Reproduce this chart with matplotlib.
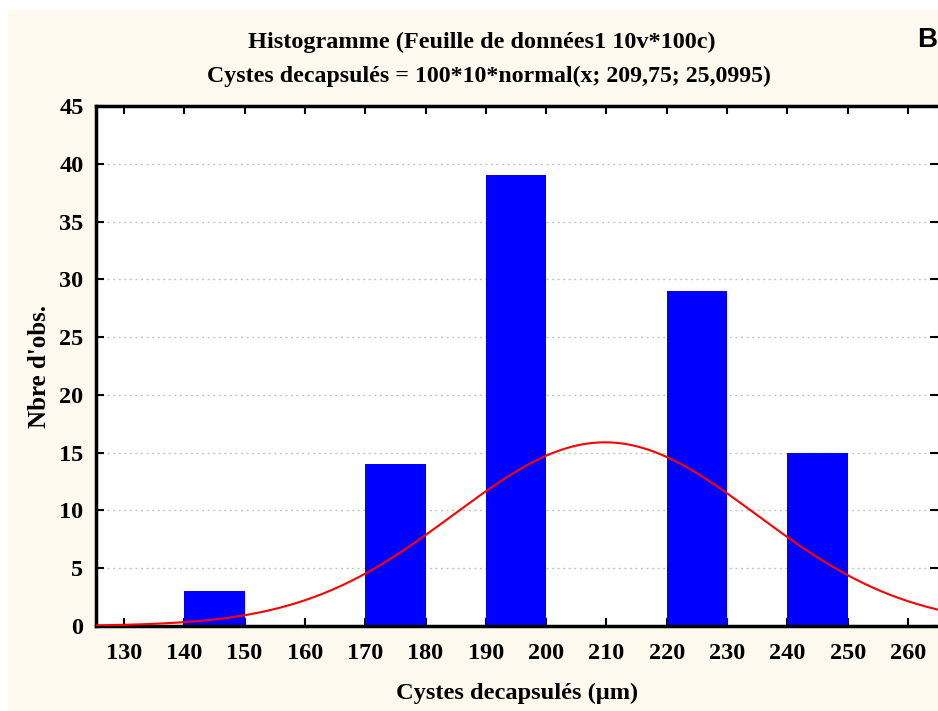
import numpy as np
import matplotlib.pyplot as plt
from matplotlib.patches import Rectangle

# bins (left edges, width 10) and counts
bin_left = [130, 140, 150, 160, 170, 180, 190, 200, 210, 220, 230, 240, 250]
counts = [0, 3, 0, 0, 14, 0, 39, 0, 0, 29, 0, 15, 0]
n_obs, bin_w, mu, sigma = 100, 10, 209.75, 25.0995
x_ticks = list(range(130, 261, 10))
y_ticks = list(range(0, 46, 5))

serif = 'Liberation Serif'
cream = '#FDF9EE'

fig = plt.figure(figsize=(9.38, 7.11), dpi=100)
fig.patch.set_facecolor('white')
fig.patches.append(Rectangle((8 / 938, 0), 1, 1 - 10 / 711, transform=fig.transFigure,
                             facecolor=cream, edgecolor='none', zorder=-10))

ax = fig.add_axes([96 / 938, 85 / 711, 1 - 96 / 938, 520 / 711])
ax.set_facecolor('white')

ax.bar(bin_left, counts, width=bin_w, align='edge', color='#0000FF', zorder=2)

xs = np.linspace(120, 270, 400)
ys = n_obs * bin_w * np.exp(-0.5 * ((xs - mu) / sigma) ** 2) / (sigma * np.sqrt(2 * np.pi))
ax.plot(xs, ys, color='#FF0000', lw=1.5, zorder=3)

ax.set_xlim(125.36, 264.97)
ax.set_ylim(0, 45)
ax.set_xticks(x_ticks)
ax.set_yticks(y_ticks)
ax.grid(axis='y', linestyle=(0, (1.5, 2.5)), color='#C4C4C4', lw=1, zorder=0)
ax.tick_params(direction='in', length=6, width=1.5, top=True, right=True,
               labelsize=17.5)
ax.tick_params(axis='x', pad=12)
ax.tick_params(axis='y', pad=9)
for lab in ax.get_xticklabels() + ax.get_yticklabels():
    lab.set_fontfamily(serif)
    lab.set_fontweight('bold')
for s in ['left', 'bottom', 'top']:
    ax.spines[s].set_linewidth(2.5)
ax.spines['right'].set_visible(False)

ax.set_xlabel('Cystes decapsulés (µm)', fontsize=17.6, fontfamily=serif,
              fontweight='bold', labelpad=14)
ax.set_ylabel("Nbre d'obs.", fontsize=18, fontfamily=serif,
              fontweight='bold', labelpad=6)

fig.text(482 / 938, 1 - 42 / 711, 'Histogramme (Feuille de données1 10v*100c)',
         ha='center', va='center', fontsize=17.5, fontfamily=serif, fontweight='bold')
fig.text(489 / 938, 1 - 76 / 711, 'Cystes decapsulés = 100*10*normal(x; 209,75; 25,0995)',
         ha='center', va='center', fontsize=17.2, fontfamily=serif, fontweight='bold')
fig.text(927 / 938, 1 - 40 / 711, 'B', ha='center', va='center', fontsize=20,
         fontfamily='Liberation Sans', fontweight='bold')

fig.savefig('out.png', dpi=100)
